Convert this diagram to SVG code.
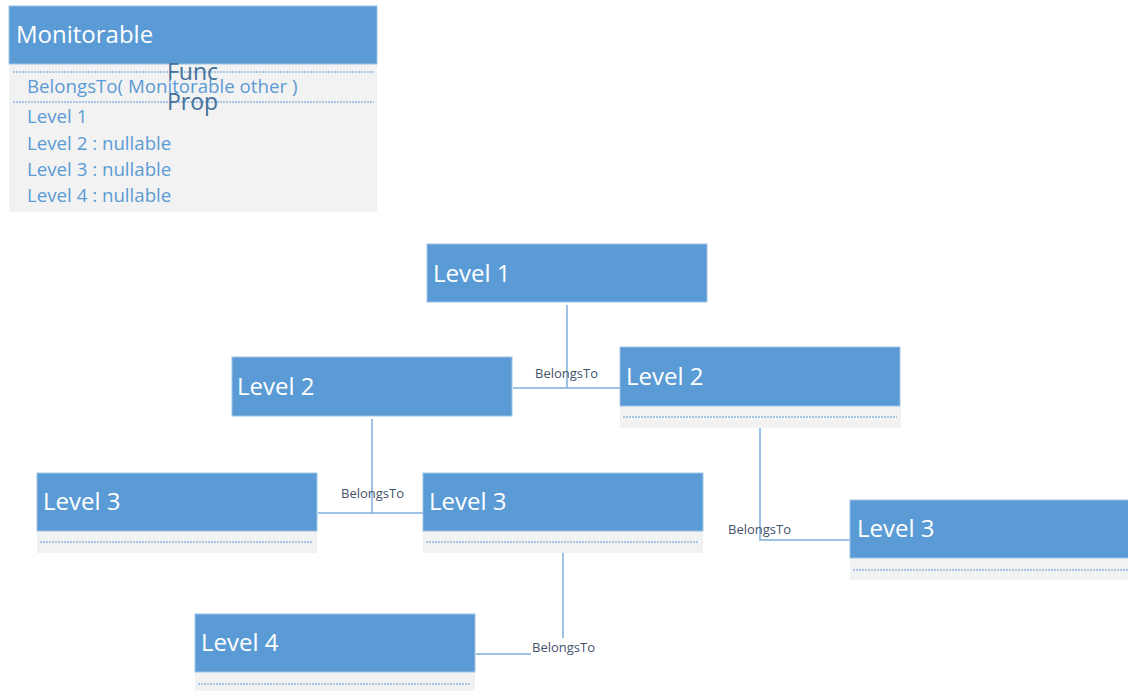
<svg xmlns="http://www.w3.org/2000/svg" width="1128" height="691" viewBox="0 0 1128 691">
  <style>
    .hdr { fill: #5B9BD5; stroke: #9DC3E6; stroke-width: 1; }
    .body { fill: #F2F2F2; }
    .sep { stroke: #5B9BD5; stroke-width: 1; stroke-dasharray: 2 1; fill: none; }
    .title { font-family: "Open Sans", "Noto Sans", sans-serif; font-size: 24px; fill: #FFFFFF; }
    .member { font-family: "Open Sans", "Noto Sans", sans-serif; font-size: 18.7px; fill: #5B9BD5; }
    .tag { font-family: "Open Sans", "Noto Sans", sans-serif; font-size: 23px; fill: #41719C; }
    .conn { stroke: #7FAEDD; stroke-width: 1.5; fill: none; }
    .lbl { font-family: "Open Sans", "Noto Sans", sans-serif; font-size: 13px; fill: #44546A; }
  </style>
  <rect width="1128" height="691" fill="#FFFFFF"/>

  <!-- class definition -->
  <g id="monitorable">
    <rect class="body" x="9" y="64" width="368" height="148"/>
    <rect class="hdr" x="9" y="6" width="368" height="58"/>
    <text class="title" x="16" y="43" font-size="25.5">Monitorable</text>
    <line class="sep" x1="13" y1="72" x2="374" y2="72"/>
    <line class="sep" x1="13" y1="102" x2="374" y2="102"/>
    <text class="member" x="27" y="93">BelongsTo( Monitorable other )</text>
    <text class="member" x="27" y="123">Level 1</text>
    <text class="member" x="27" y="150">Level 2 : nullable</text>
    <text class="member" x="27" y="176">Level 3 : nullable</text>
    <text class="member" x="27" y="202">Level 4 : nullable</text>
    <text class="tag" x="167" y="80">Func</text>
    <text class="tag" x="167" y="110">Prop</text>
  </g>

  <!-- connectors -->
  <g id="connectors">
    <path class="conn" d="M567 305 V388 M513 388 H620"/>
    <text class="lbl" x="535" y="378">BelongsTo</text>
    <path class="conn" d="M372 419 V513 M318 513 H423"/>
    <text class="lbl" x="341" y="498">BelongsTo</text>
    <path class="conn" d="M760 428 V540 H850"/>
    <text class="lbl" x="728" y="534">BelongsTo</text>
    <path class="conn" d="M563 553 V638 M476 654 H531"/>
    <text class="lbl" x="532" y="652">BelongsTo</text>
  </g>

  <!-- instances -->
  <g id="level1">
    <rect class="hdr" x="427" y="244" width="280" height="58"/>
    <text class="title" x="433" y="282">Level 1</text>
  </g>

  <g id="level2-a">
    <rect class="hdr" x="232" y="357" width="280" height="59"/>
    <text class="title" x="237" y="395">Level 2</text>
  </g>

  <g id="level2-b">
    <rect class="body" x="620" y="406" width="281" height="22"/>
    <rect class="hdr" x="620" y="347" width="280" height="59"/>
    <line class="sep" x1="623" y1="417" x2="897" y2="417"/>
    <text class="title" x="626" y="385">Level 2</text>
  </g>

  <g id="level3-a">
    <rect class="body" x="37" y="531" width="280" height="22"/>
    <rect class="hdr" x="37" y="473" width="280" height="58"/>
    <line class="sep" x1="40" y1="542" x2="313" y2="542"/>
    <text class="title" x="43" y="510">Level 3</text>
  </g>

  <g id="level3-b">
    <rect class="body" x="423" y="531" width="280" height="22"/>
    <rect class="hdr" x="423" y="473" width="280" height="58"/>
    <line class="sep" x1="426" y1="542" x2="698" y2="542"/>
    <text class="title" x="429" y="510">Level 3</text>
  </g>

  <g id="level3-c">
    <rect class="body" x="850" y="558" width="278" height="22"/>
    <rect class="hdr" x="850" y="500" width="279" height="58"/>
    <line class="sep" x1="853" y1="570" x2="1128" y2="570"/>
    <text class="title" x="857" y="537">Level 3</text>
  </g>

  <g id="level4">
    <rect class="body" x="195" y="672" width="280" height="19"/>
    <rect class="hdr" x="195" y="614" width="280" height="58"/>
    <line class="sep" x1="198" y1="684" x2="471" y2="684"/>
    <text class="title" x="201" y="651">Level 4</text>
  </g>
</svg>
